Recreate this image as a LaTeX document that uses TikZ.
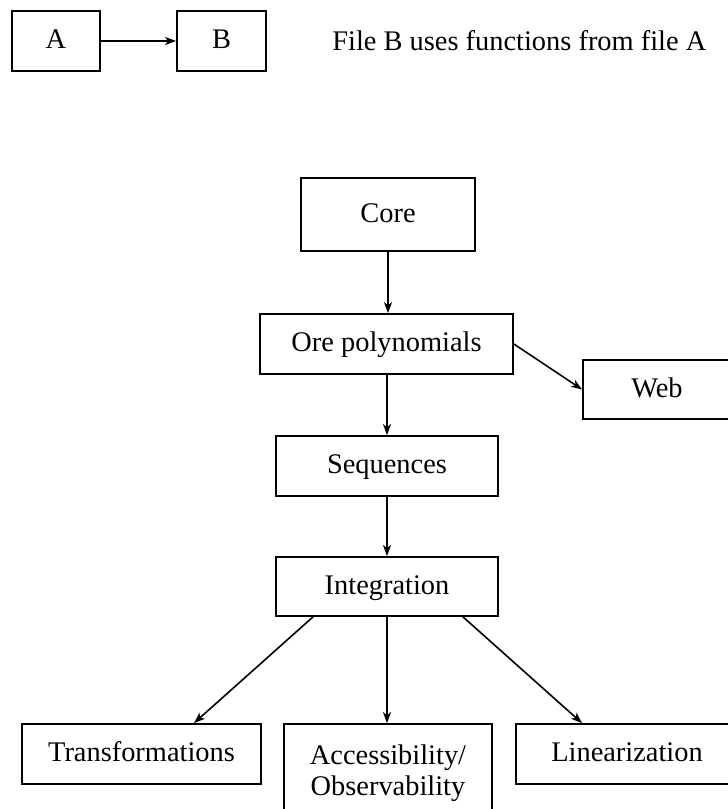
\documentclass[tikz,border=0pt]{standalone}
\usepackage{fontspec}
\setmainfont{Liberation Serif}
\usetikzlibrary{arrows.meta,calc}
\begin{document}
\begin{tikzpicture}[x=0.5pt,y=-0.5pt,
  font=\fontsize{14.2pt}{15.5pt}\selectfont,
  box/.style={draw,line width=0.9pt,inner sep=0pt,text height=0.9em,text depth=0.15em},
  tallbox/.style={draw,line width=0.9pt,inner sep=0pt,align=center},
  conn/.style={line width=0.8pt,-{Stealth[length=5.5pt,width=4pt,inset=1.5pt]}}
]
\useasboundingbox (0,0) rectangle (728,809);

% legend
\node[box,minimum width=44pt,minimum height=30pt] (a) at (56,41) {A};
\node[box,minimum width=44.5pt,minimum height=30pt] (b) at (221.5,41) {B};
\node[anchor=base west,inner sep=0pt] (legend) at (332,50) {File B uses functions from file A};
\draw[conn] (a.east) -- (b.west);

% main diagram
\node[box,minimum width=87pt,minimum height=36.5pt] (core) at (388,214.5) {Core};
\node[box,minimum width=126.5pt,minimum height=30pt] (ore) at (386.5,344) {Ore polynomials};
\node[box,minimum width=74pt,minimum height=29.5pt] (web) at (657,389.5) {Web};
\node[box,minimum width=111pt,minimum height=30pt] (seq) at (387,466) {Sequences};
\node[box,minimum width=111pt,minimum height=29.5pt] (int) at (387,586.5) {Integration};
\node[box,minimum width=119.5pt,minimum height=30pt] (trans) at (141.5,754) {Transformations};
\node[tallbox,minimum width=104pt,minimum height=49pt] (acc) at (388,773) {Accessibility/\\Observability};
\node[box,minimum width=111pt,minimum height=30pt] (lin) at (627,754) {Linearization};

\draw[conn] (core.south) -- (core.south |- ore.north);
\draw[conn] (ore.east) -- (web.west);
\draw[conn] (seq.north |- ore.south) -- (seq.north);
\draw[conn] (seq.south) -- (int.north);
\draw[conn] ($(int.south)+(-74,0)$) -- ($(trans.north)+(52.5,0)$);
\draw[conn] (int.south) -- (int.south |- acc.north);
\draw[conn] ($(int.south)+(76,0)$) -- ($(lin.north)+(-45,0)$);
\end{tikzpicture}
\end{document}
